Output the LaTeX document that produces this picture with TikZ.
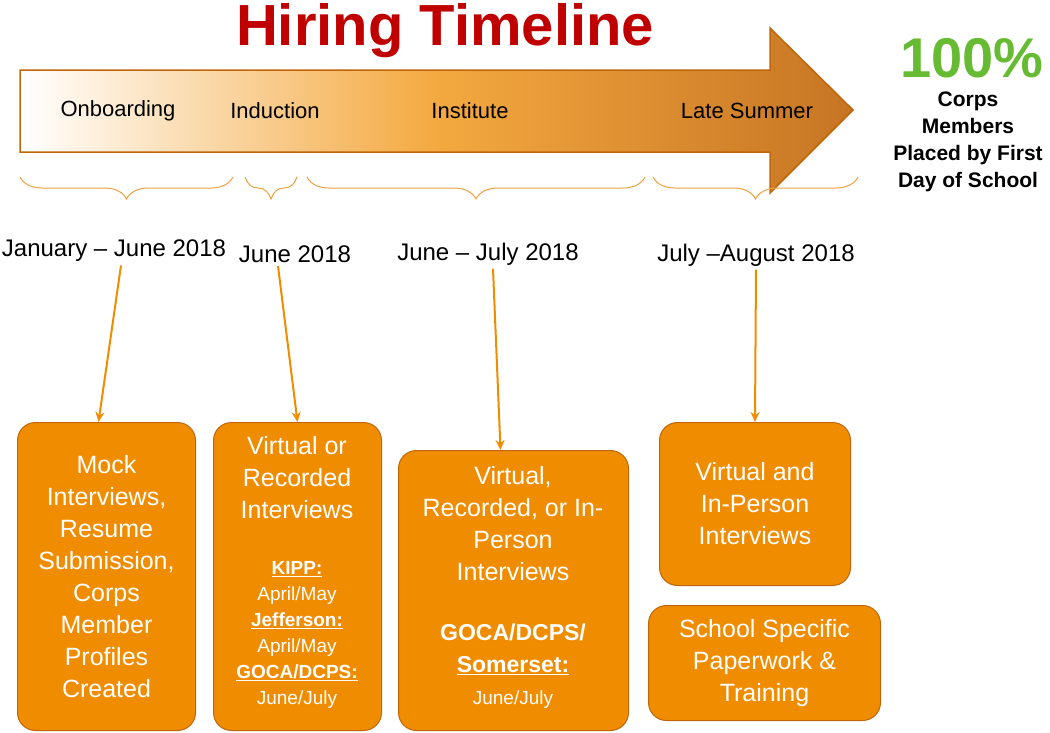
\documentclass[tikz,border=0pt]{standalone}
\usepackage{fontspec}
\setmainfont{Liberation Sans}
\usetikzlibrary{decorations.pathreplacing,arrows.meta}
\definecolor{org}{HTML}{F08C00}
\definecolor{orgd}{HTML}{C0650A}
\definecolor{brc}{HTML}{F0A040}
\definecolor{ttl}{HTML}{C00000}
\definecolor{grn}{HTML}{66BB33}
\tikzset{
 box/.style={draw=orgd,fill=org,rounded corners=18pt,line width=1pt,anchor=north west},
 bt/.style={align=center,text=white,font=\fontsize{25}{32}\selectfont},
 brc/.style={draw=brc,line width=1pt,decorate,decoration={brace,mirror,amplitude=22pt}},
 dt/.style={font=\fontsize{24}{26}\selectfont},
 ph/.style={font=\fontsize{22}{24}\selectfont},
 con/.style={draw=org,line width=2pt,-{Stealth[length=10pt,width=9pt]}}
}
\begin{document}
\begin{tikzpicture}[x=1pt,y=-1pt]
\useasboundingbox (0,0) rectangle (1050,732);
\shade[left color=white,right color=orgd!90,middle color=org!75,draw=orgd,line width=1.5pt]
 (20,70) -- (770,70) -- (770,28) -- (853,110) -- (770,193) -- (770,152) -- (20,152) -- cycle;
\node[font=\bfseries\fontsize{58}{60}\selectfont,text=ttl] (title) at (445,31) {Hiring Timeline};
\node[ph] (p1) at (118,111) {Onboarding};
\node[ph] (p2) at (275,111) {Induction};
\node[ph] (p3) at (470,111) {Institute};
\node[ph] (p4) at (747,111) {Late Summer};
\node[font=\bfseries\fontsize{56}{58}\selectfont,text=grn] (pc) at (972,58) {100\%};
\node[font=\bfseries\fontsize{21}{27}\selectfont,align=center,anchor=north] (cm) at (968,88) {Corps\\Members\\Placed by First\\Day of School};
\draw[brc] (20,177) -- (233,177);
\draw[brc] (245,177) -- (297,177);
\draw[brc] (307,177) -- (645,177);
\draw[brc] (653,177) -- (858,177);
\node[dt] (d1) at (114,251) {January – June 2018};
\node[dt] (d2) at (295,254) {June 2018};
\node[dt] (d3) at (488,254) {June – July 2018};
\node[dt] (d4) at (756,255) {July –August 2018};
\node[box,minimum width=178pt,minimum height=308pt] (b1) at (17,422) {};
\node[bt] at (b1.center) {Mock\\Interviews,\\Resume\\Submission,\\Corps\\Member\\Profiles\\Created};
\node[box,minimum width=168pt,minimum height=308pt] (b2) at (213,422) {};
\node[bt,anchor=north] at (297,433) {Virtual or\\Recorded\\Interviews};
\node[align=center,text=white,anchor=north,font=\fontsize{19}{26}\selectfont] at (297,558) {\textbf{\underline{KIPP:}}\\April/May\\\textbf{\underline{Jefferson:}}\\April/May\\\textbf{\underline{GOCA/DCPS:}}\\June/July};
\node[box,minimum width=230pt,minimum height=280pt] (b3) at (398,450) {};
\node[bt,anchor=north] at (513,463) {Virtual,\\Recorded, or In-\\Person\\Interviews};
\node[align=center,text=white,anchor=north,font=\fontsize{23}{32}\selectfont] at (513,620) {\textbf{GOCA/DCPS/}\\\textbf{\underline{Somerset:}}\\{\fontsize{19}{20}\selectfont June/July}};
\node[box,minimum width=191pt,minimum height=163pt] (b4) at (659,422) {};
\node[bt] at (b4.center) {Virtual and\\In-Person\\Interviews};
\node[box,minimum width=232pt,minimum height=115pt] (b5) at (648,605) {};
\node[bt] at (b5.center) {School Specific\\Paperwork \&\\Training};
\draw[con] ([xshift=7pt]d1.south) -- ([xshift=-8pt]b1.north);
\draw[con] ([xshift=-17pt]d2.south) -- ([xshift=0pt]b2.north);
\draw[con] ([xshift=5pt]d3.south) -- ([xshift=-13pt]b3.north);
\draw[con] (d4.south) -- (b4.north);
\end{tikzpicture}
\end{document}
